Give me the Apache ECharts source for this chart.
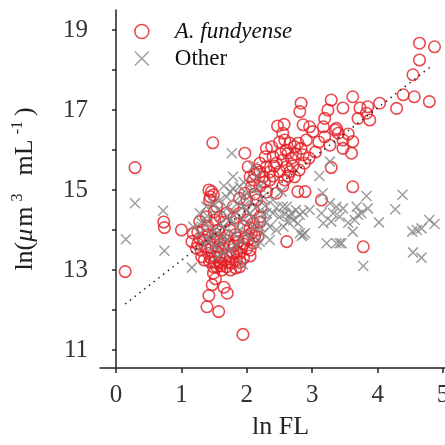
<!DOCTYPE html>
<html>
<head>
<meta charset="utf-8">
<script src="https://cdn.jsdelivr.net/npm/echarts@6/dist/echarts.min.js"></script>
<style>
  html, body { margin: 0; padding: 0; background: #fff; }
  #chart { width: 445px; height: 445px; }
</style>
</head>
<body>
<div id="chart"></div>
<script>
// ln FL vs ln biovolume
const fundyensePoints = [
  [0.14, 12.96], [0.29, 15.56], [0.73, 14.2], [0.74, 14.06], [1.0, 14.0], [1.48, 16.18], [1.94, 11.39],
  [3.62, 15.08], [3.78, 13.58], [2.61, 13.71],
  [1.39, 12.08], [1.42, 12.36], [1.47, 12.63], [1.57, 11.96], [1.65, 12.57], [1.70, 12.42], [1.49, 12.92], [1.52, 12.78],
  [1.16, 13.71], [1.18, 13.92], [1.23, 13.54], [1.28, 13.79], [1.31, 13.33], [1.36, 13.58], [1.41, 13.42],
  [1.43, 13.21], [1.51, 13.33], [1.54, 13.08], [1.61, 13.17], [1.69, 13.08], [1.77, 13.17], [1.84, 13.25],
  [1.79, 13.42], [1.89, 13.42], [2.0, 13.54], [2.10, 13.67], [2.17, 13.83], [2.15, 14.0], [2.07, 13.92],
  [1.97, 13.79], [1.87, 13.71], [1.74, 13.63], [1.64, 13.54], [1.56, 13.58], [1.49, 13.75], [1.41, 13.88],
  [1.33, 14.0], [1.28, 14.21], [1.38, 14.33], [1.43, 14.75], [1.42, 15.0], [1.46, 14.96], [1.44, 14.83],
  [1.49, 14.88], [1.54, 14.58], [1.59, 14.33], [1.69, 14.42], [1.79, 14.58], [1.89, 14.42], [2.0, 14.25],
  [2.10, 14.17], [2.20, 14.33], [2.22, 14.58], [2.15, 14.75], [2.10, 14.5], [1.74, 14.0], [1.82, 13.88],
  [1.56, 14.0], [1.51, 14.25], [1.59, 13.33], [1.69, 13.33], [1.89, 13.08], [1.49, 13.08], [1.62, 13.0],
  [1.75, 13.0], [1.58, 13.2], [1.66, 13.25], [1.83, 13.05], [1.95, 13.3], [2.05, 13.35], [1.45, 13.55],
  [1.35, 13.75], [1.25, 13.95], [1.8, 13.6], [1.92, 13.55], [2.02, 13.75], [1.6, 13.75], [1.7, 13.85], [1.52, 13.9],
  [1.3, 13.5], [1.45, 13.3], [1.55, 13.45], [1.65, 13.65], [1.75, 13.35], [1.85, 13.45], [1.95, 13.65],
  [2.05, 13.5], [1.4, 14.1], [1.5, 14.45], [1.65, 14.2], [1.8, 14.3], [1.95, 14.1], [2.05, 14.05],
  [2.12, 13.85], [1.72, 13.2], [1.9, 13.2], [1.6, 13.1], [1.5, 13.2], [1.25, 13.65], [1.35, 13.25],
  [1.55, 13.8], [1.85, 13.8], [2.2, 14.2],
  [2.47, 16.6], [2.57, 16.64], [2.55, 16.42], [2.58, 16.25], [2.83, 17.17], [2.81, 16.96], [3.29, 17.25],
  [3.62, 17.33], [3.47, 17.05], [3.24, 17.0], [3.19, 16.79], [3.17, 16.58], [3.37, 16.54], [3.40, 16.42],
  [3.73, 17.05], [3.70, 16.79], [3.83, 16.92], [3.88, 16.75], [3.85, 17.08], [4.03, 17.17], [4.29, 17.04],
  [4.39, 17.38], [4.56, 17.33], [4.54, 17.88], [4.64, 18.25], [4.64, 18.67], [4.87, 18.58], [4.79, 17.21],
  [3.47, 16.25], [3.62, 16.21], [3.60, 15.92], [3.47, 16.04], [3.27, 16.12], [3.19, 16.33], [3.29, 15.56],
  [3.14, 14.75], [2.96, 16.58], [3.01, 16.46], [2.86, 16.63], [2.91, 16.25], [2.78, 16.17], [2.83, 16.04],
  [2.86, 15.88], [2.88, 15.67], [2.73, 16.08], [2.66, 16.17], [2.63, 15.92], [2.68, 15.79], [2.55, 15.75],
  [2.61, 15.58], [2.66, 15.46], [2.73, 15.33], [2.50, 15.46], [2.58, 15.25], [2.38, 16.08], [2.30, 16.04],
  [2.28, 15.83], [2.40, 15.83], [2.45, 15.67], [2.30, 15.58], [2.20, 15.67], [2.15, 15.5], [2.25, 15.33],
  [2.35, 15.25], [2.10, 15.25], [2.02, 15.58], [1.97, 15.92], [2.05, 15.33], [2.07, 15.08], [1.97, 14.92],
  [2.0, 14.75], [1.89, 14.79], [2.45, 14.92], [2.78, 14.96], [2.89, 14.96], [2.2, 15.1], [2.3, 14.95],
  [2.12, 14.9], [3.35, 16.5], [3.55, 16.4], [3.1, 16.2], [3.05, 15.95], [2.95, 15.8],
  [2.35, 15.45], [2.42, 15.6], [2.52, 15.9], [2.6, 16.0], [2.7, 15.6], [2.75, 15.9], [2.5, 16.2],
  [2.4, 15.35], [2.2, 15.45], [2.27, 15.2], [2.12, 15.4], [2.55, 15.1], [2.63, 15.35], [2.8, 15.5]
];

const otherPoints = [
  [0.15, 13.77], [0.29, 14.67], [0.72, 14.48], [0.74, 13.48], [1.16, 13.06], [1.77, 15.92], [1.94, 13.14],
  [3.78, 13.1], [4.67, 13.31], [4.54, 13.44], [4.53, 13.96], [4.67, 14.04], [4.6, 14.0], [4.79, 14.25],
  [4.87, 14.15], [4.38, 14.88], [4.27, 14.52], [4.02, 14.19], [3.83, 14.85], [3.85, 14.54], [3.75, 14.42],
  [3.65, 14.25], [3.62, 13.96], [3.55, 14.18], [3.68, 14.58], [3.70, 14.38], [3.47, 14.54], [3.37, 14.58],
  [3.32, 14.42], [3.29, 14.21], [3.17, 14.17], [3.14, 14.42], [3.22, 13.67], [3.37, 13.67], [3.42, 13.67],
  [3.45, 13.67], [3.11, 15.35], [3.16, 14.92], [3.27, 14.67], [3.27, 15.71], [3.42, 14.33],
  [2.81, 13.92], [2.86, 13.88], [2.89, 13.92], [2.84, 13.85],
  [1.18, 14.08], [1.28, 14.42], [1.38, 14.58], [1.49, 14.67], [1.59, 14.75], [1.69, 14.83], [1.79, 15.04],
  [1.89, 15.08], [2.0, 14.92], [2.10, 15.0], [2.20, 15.08], [2.25, 14.83], [2.15, 14.58], [2.05, 14.42],
  [1.94, 14.58], [1.84, 14.42], [1.74, 14.25], [1.64, 14.08], [1.54, 13.92], [1.43, 13.75], [1.33, 13.63],
  [1.28, 13.92], [1.49, 13.58], [1.59, 13.67], [1.69, 13.75], [1.79, 13.92], [1.89, 14.0], [2.0, 13.92],
  [2.10, 14.08], [2.20, 14.08], [2.15, 13.63], [2.25, 13.92], [2.35, 14.08], [2.30, 14.42], [2.40, 14.75],
  [2.53, 14.96], [2.55, 14.58], [1.64, 13.42], [1.74, 13.5], [1.54, 13.33], [1.84, 13.58], [1.79, 15.33],
  [2.15, 15.33], [2.10, 15.58], [1.56, 14.5], [1.38, 14.17], [1.95, 14.25], [2.05, 14.7], [1.7, 14.55],
  [1.8, 14.2], [2.3, 14.2], [2.2, 13.7],
  [1.5, 14.0], [1.6, 14.15], [1.7, 14.35], [1.85, 14.65], [1.9, 14.85], [2.0, 14.5], [2.1, 14.3],
  [2.25, 14.4], [1.4, 14.35], [1.3, 14.2], [1.45, 13.9], [1.65, 13.85], [1.9, 13.75], [2.05, 13.8],
  [2.28, 14.6], [1.75, 14.95], [1.65, 15.1], [1.95, 15.2], [2.45, 14.55], [2.58, 14.4],
  [2.61, 14.58], [2.68, 14.42], [2.75, 14.5], [2.81, 14.38], [2.71, 14.25], [2.63, 14.21], [2.78, 14.17],
  [2.56, 14.08], [2.5, 14.33], [2.40, 14.42], [2.45, 14.0], [2.35, 13.75], [2.96, 14.5], [2.66, 14.33], [2.86, 14.45]
];

const fitLine = [[0.14, 12.15], [4.84, 18.12]];

const xTicks = [0, 1, 2, 3, 4, 5];
const yTicks = [11, 12, 13, 14, 15, 16, 17, 18, 19];
const yLabels = [11, 13, 15, 17, 19];

const FONT = '"Liberation Serif", "Times New Roman", serif';
const RED = '#e31e24';
const GREY = '#868686';
const CROSS = 'path://M0,0L10,10M10,0L0,10';

const chart = echarts.init(document.getElementById('chart'));
chart.setOption({
  animation: false,
  backgroundColor: '#fff',
  grid: { left: 100, right: 0, top: 10, bottom: 77, outerBoundsMode: 'none', containLabel: false },
  legend: {
    orient: 'vertical',
    left: 129,
    top: 15,
    itemWidth: 14,
    itemHeight: 14,
    itemGap: 4,
    data: [
      { name: 'A. fundyense', icon: 'circle', itemStyle: { color: 'transparent', borderColor: RED, borderWidth: 1.6 } },
      { name: 'Other', icon: CROSS, itemStyle: { color: 'transparent', borderColor: GREY, borderWidth: 1.5 } }
    ],
    formatter: name => (name === 'Other' ? '{n|' + name + '}' : '{i|' + name + '}'),
    textStyle: {
      fontFamily: FONT,
      fontSize: 23,
      color: '#111',
      rich: {
        i: { fontFamily: FONT, fontSize: 23, fontStyle: 'italic', color: '#111', padding: [0, 0, 0, 21], lineHeight: 24 },
        n: { fontFamily: FONT, fontSize: 23, color: '#111', padding: [0, 0, 0, 21], lineHeight: 24 }
      }
    }
  },
  xAxis: {
    type: 'value',
    min: -0.245,
    max: 5.03,
    name: 'ln FL',
    nameLocation: 'middle',
    nameGap: 46,
    nameTextStyle: { fontFamily: FONT, fontSize: 26, color: '#222', padding: [0, 0, 0, 16] },
    axisLine: { lineStyle: { color: '#222', width: 1.5 } },
    axisTick: { customValues: xTicks, length: 5, lineStyle: { color: '#222', width: 1.5 } },
    axisLabel: { customValues: xTicks, margin: 15, fontFamily: FONT, fontSize: 25, color: '#333' },
    splitLine: { show: false }
  },
  yAxis: {
    type: 'value',
    min: 10.55,
    max: 19.5,
    name: '{a|ln(}{u|μ}{a|m}{s|3}{a|  mL}{s|-1}{a|)}',
    nameLocation: 'middle',
    nameGap: 50,
    nameTextStyle: {
      fontFamily: FONT,
      fontSize: 26,
      color: '#222',
      padding: [0, 0, 10, 0],
      rich: {
        a: { fontFamily: FONT, fontSize: 26, color: '#222', lineHeight: 30 },
        u: { fontFamily: FONT, fontSize: 26, fontStyle: 'italic', color: '#222', lineHeight: 30, padding: [0, 2, 0, 0] },
        s: { fontFamily: FONT, fontSize: 16, color: '#222', verticalAlign: 'top', lineHeight: 16, padding: [0, 5, 0, 5] }
      }
    },
    axisLine: { lineStyle: { color: '#222', width: 1.5 } },
    axisTick: { customValues: yTicks, length: 4, lineStyle: { color: '#222', width: 1.5 } },
    axisLabel: { customValues: yLabels, margin: 12, fontFamily: FONT, fontSize: 25, color: '#333' },
    splitLine: { show: false }
  },
  series: [
    {
      name: 'A. fundyense',
      type: 'scatter',
      symbol: 'circle',
      symbolSize: 11.5,
      itemStyle: { color: 'transparent', borderColor: RED, borderWidth: 1.6 },
      data: fundyensePoints
    },
    {
      name: 'Other',
      type: 'scatter',
      symbol: CROSS,
      symbolSize: 10,
      itemStyle: { color: 'transparent', borderColor: GREY, borderWidth: 1.5 },
      data: otherPoints
    },
    {
      name: 'fit',
      type: 'line',
      showSymbol: false,
      symbol: 'none',
      silent: true,
      lineStyle: { color: '#222', width: 1.5, type: [1.5, 4.5] },
      data: fitLine
    }
  ]
});
</script>
</body>
</html>
